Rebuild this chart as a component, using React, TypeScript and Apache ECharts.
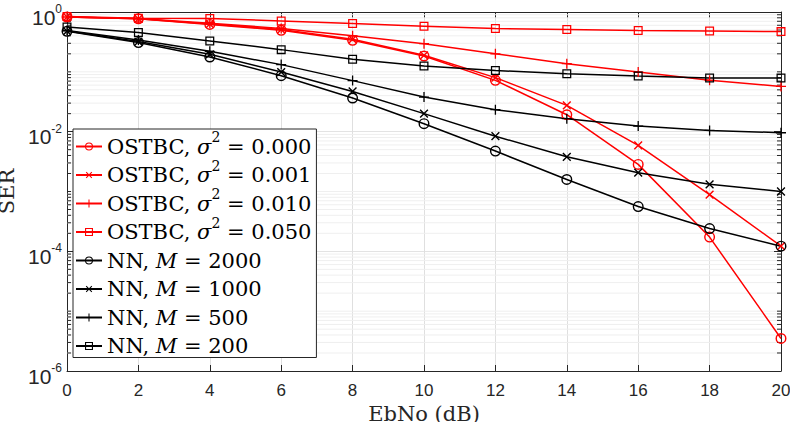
import React, { useEffect, useRef } from "react";
import * as echarts from "echarts";

// Eb/N0 grid (dB)
const ebno = [0, 2, 4, 6, 8, 10, 12, 14, 16, 18, 20];

// OSTBC symbol error rate for several channel-estimation error variances
const sigmaLabels = ["0.000", "0.001", "0.010", "0.050"];
const serOstbc000 = [0.825, 0.77, 0.62, 0.494, 0.336, 0.184, 0.072, 0.0192, 0.00284, 1.73e-4, 3.5e-6];
const serOstbc001 = [0.825, 0.77, 0.63, 0.51, 0.35, 0.189, 0.08, 0.0275, 0.0059, 8.9e-4, 1.22e-4];
const serOstbc010 = [0.825, 0.775, 0.65, 0.53, 0.4, 0.296, 0.2, 0.137, 0.099, 0.072, 0.057];
const serOstbc050 = [0.84, 0.79, 0.776, 0.71, 0.64, 0.58, 0.53, 0.51, 0.49, 0.48, 0.47];

// Neural-network decoder for several training-set sizes M
const nnLabels = ["2000", "1000", "500", "200"];
const serNn2000 = [0.475, 0.308, 0.177, 0.0863, 0.0365, 0.0136, 0.00474, 0.00159, 5.6e-4, 2.4e-4, 1.22e-4];
const serNn1000 = [0.48, 0.32, 0.196, 0.099, 0.047, 0.02, 0.0084, 0.0038, 0.00206, 0.00132, 0.001];
const serNn500 = [0.49, 0.34, 0.22, 0.132, 0.0713, 0.0379, 0.0233, 0.0165, 0.0124, 0.0105, 0.0096];
const serNn200 = [0.56, 0.453, 0.327, 0.235, 0.162, 0.125, 0.105, 0.093, 0.085, 0.079, 0.079];

// Axis ranges
const yMin = 1e-6;
const yMax = 1;
const minorMantissas = [2, 3, 4, 5, 6, 7, 8, 9];

const RED = "#ff0000";
const BLACK = "#000000";
const AXIS = "#262626";

// Hollow marker outlines (outer and inner contours wound opposite ways)
const SYM_CIRCLE =
  "path://M5,0A5,5,0,1,1,5,10A5,5,0,1,1,5,0Z M5,1.3A3.7,3.7,0,1,0,5,8.7A3.7,3.7,0,1,0,5,1.3Z";
const SYM_SQUARE = "path://M0,0H10V10H0Z M1.4,1.4V8.6H8.6V1.4Z";
const SYM_PLUS = "path://M4.35,0H5.65V10H4.35Z M0,4.35H10V5.65H0Z";

const ostbcNames = sigmaLabels.map((s) => `OSTBC, σ² = ${s}`);
const nnNames = nnLabels.map((m) => `NN, M = ${m}`);

function minorValues(): number[] {
  const out: number[] = [];
  for (let e = -6; e < 0; e++) {
    const base = Math.pow(10, e);
    if (e % 2 !== 0) out.push(base);
    for (const m of minorMantissas) out.push(m * base);
  }
  return out;
}

function lineSeries(
  name: string,
  values: number[],
  color: string,
  symbol: string,
  symbolSize: number,
  rotate = 0
) {
  return {
    name,
    type: "line",
    data: ebno.map((x, i) => [x, values[i]]),
    symbol,
    symbolSize,
    symbolRotate: rotate,
    showSymbol: true,
    lineStyle: { color, width: 1.5 },
    itemStyle: { color },
    emphasis: { disabled: true },
    z: 3,
  };
}

export default function App() {
  const ref = useRef<HTMLDivElement>(null);

  useEffect(() => {
    if (!ref.current) return;
    const chart = echarts.init(ref.current, undefined, { renderer: "svg" });

    const series: any[] = [
      lineSeries(ostbcNames[0], serOstbc000, RED, SYM_CIRCLE, 11),
      lineSeries(ostbcNames[1], serOstbc001, RED, SYM_PLUS, 11, 45),
      lineSeries(ostbcNames[2], serOstbc010, RED, SYM_PLUS, 10),
      lineSeries(ostbcNames[3], serOstbc050, RED, SYM_SQUARE, 9),
      lineSeries(nnNames[0], serNn2000, BLACK, SYM_CIRCLE, 11),
      lineSeries(nnNames[1], serNn1000, BLACK, SYM_PLUS, 11, 45),
      lineSeries(nnNames[2], serNn500, BLACK, SYM_PLUS, 10),
      lineSeries(nnNames[3], serNn200, BLACK, SYM_SQUARE, 9),
      {
        // minor grid lines and minor ticks of the logarithmic axis
        type: "custom",
        silent: true,
        z: 1,
        data: minorValues().map((v) => [0, v]),
        encode: { x: 0, y: 1 },
        renderItem: (params: any, api: any) => {
          const v = api.value(1);
          const y = api.coord([0, v])[1];
          const cs = params.coordSys;
          const x0 = cs.x;
          const x1 = cs.x + cs.width;
          return {
            type: "group",
            children: [
              {
                type: "line",
                shape: { x1: x0, y1: y, x2: x1, y2: y },
                style: { stroke: "#efefef", lineWidth: 1 },
              },
              {
                type: "line",
                shape: { x1: x0, y1: y, x2: x0 + 4, y2: y },
                style: { stroke: AXIS, lineWidth: 1 },
              },
              {
                type: "line",
                shape: { x1: x1 - 4, y1: y, x2: x1, y2: y },
                style: { stroke: AXIS, lineWidth: 1 },
              },
            ],
          };
        },
      },
    ];

    const sans = "Liberation Sans, Arial, sans-serif";
    const serif = "DejaVu Serif, serif";

    chart.setOption({
      animation: false,
      backgroundColor: "#ffffff",
      grid: {
        left: 67,
        right: 9,
        top: 12,
        bottom: 51,
        containLabel: false,
        outerBoundsMode: "none",
      },
      legend: {
        data: [...ostbcNames, ...nnNames],
        orient: "vertical",
        left: 73,
        top: 129,
        itemWidth: 26,
        itemHeight: 10,
        itemGap: 1.5,
        padding: [1, 5, 1, 2],
        backgroundColor: "#ffffff",
        borderColor: AXIS,
        borderWidth: 1,
        borderRadius: 0,
        selectedMode: false,
        z: 10,
        textStyle: {
          color: "#000",
          fontFamily: serif,
          fontSize: 21,
          rich: {
            t: { fontFamily: serif, fontSize: 21, lineHeight: 33, color: "#000" },
            i: { fontFamily: serif, fontSize: 21, lineHeight: 33, fontStyle: "italic", color: "#000" },
            s: { fontFamily: serif, fontSize: 14, lineHeight: 33, verticalAlign: "top", color: "#000" },
            sp: { fontFamily: serif, fontSize: 21, lineHeight: 33, verticalAlign: "top", color: "#000" },
          },
        },
        formatter: (name: string) => {
          const i = ostbcNames.indexOf(name);
          if (i >= 0) return `{t|OSTBC, }{i|σ}{s|2}{t| = ${sigmaLabels[i]}}`;
          const j = nnNames.indexOf(name);
          return `{t|NN,}{sp| }{i|M}{t| = ${nnLabels[j]}}`;
        },
      },
      xAxis: [
        {
          type: "value",
          min: 0,
          max: 20,
          interval: 2,
          name: "EbNo (dB)",
          nameLocation: "middle",
          nameGap: 30,
          nameTextStyle: { fontFamily: serif, fontSize: 21, color: AXIS },
          axisLine: { show: true, lineStyle: { color: AXIS, width: 1 } },
          axisTick: { show: true, inside: true, length: 6, lineStyle: { color: AXIS } },
          axisLabel: { color: AXIS, fontFamily: sans, fontSize: 17, margin: 11 },
          splitLine: { show: true, lineStyle: { color: "#dfdfdf", width: 1 } },
        },
        {
          type: "value",
          position: "top",
          min: 0,
          max: 20,
          interval: 2,
          axisLine: { show: true, onZero: false, lineStyle: { color: AXIS, width: 1 } },
          axisTick: { show: true, inside: true, length: 6, lineStyle: { color: AXIS } },
          axisLabel: { show: false },
          splitLine: { show: false },
        },
      ],
      yAxis: [
        {
          type: "log",
          logBase: 10,
          min: yMin,
          max: yMax,
          interval: 2,
          name: "SER",
          nameLocation: "middle",
          nameGap: 45,
          nameRotate: 90,
          nameTextStyle: { fontFamily: serif, fontSize: 21, color: AXIS },
          axisLine: { show: true, lineStyle: { color: AXIS, width: 1 } },
          axisTick: { show: true, inside: true, length: 7, lineStyle: { color: AXIS } },
          axisLabel: {
            color: AXIS,
            margin: 5,
            padding: [10, 0, 0, 0],
            formatter: (value: number) => {
              const e = Math.round(Math.log10(value));
              return `{b|10}{e|${e}}`;
            },
            rich: {
              b: { fontFamily: sans, fontSize: 21, lineHeight: 20, color: AXIS },
              e: { fontFamily: sans, fontSize: 12, lineHeight: 28, verticalAlign: "top", color: AXIS },
            },
          },
          splitLine: { show: true, lineStyle: { color: "#e3e3e3", width: 1 } },
        },
        {
          type: "log",
          logBase: 10,
          position: "right",
          min: yMin,
          max: yMax,
          interval: 2,
          axisLine: { show: true, onZero: false, lineStyle: { color: AXIS, width: 1 } },
          axisTick: { show: true, inside: true, length: 7, lineStyle: { color: AXIS } },
          axisLabel: { show: false },
          splitLine: { show: false },
        },
      ],
      series,
    });

    return () => chart.dispose();
  }, []);

  return (
    <div
      ref={ref}
      style={{ position: "fixed", left: 0, top: 0, width: 790, height: 422 }}
    />
  );
}
